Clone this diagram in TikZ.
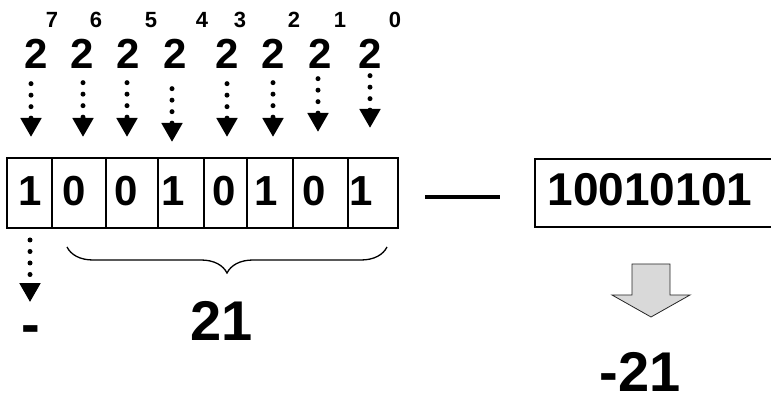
\documentclass[tikz,border=0pt]{standalone}
\usepackage{fontspec}
\setmainfont{Liberation Sans}
\usetikzlibrary{arrows.meta,decorations.pathreplacing,calc}

\begin{document}
\begin{tikzpicture}[x=1pt,y=-1pt,
  every node/.style={inner sep=0pt, outer sep=0pt},
  cellbox/.style={draw, line width=1.3pt, minimum height=70pt},
  bitdigit/.style={font=\fontsize{42}{42}\selectfont\bfseries},
  basetwo/.style={font=\fontsize{42}{42}\selectfont\bfseries},
  expo/.style={font=\fontsize{22}{22}\selectfont\bfseries},
  bignum/.style={font=\fontsize{56}{56}\selectfont\bfseries},
  dotarrow/.style={line width=5pt, line cap=round, dash pattern=on 0pt off 11.5pt,
    -{Triangle[width=20pt,length=19pt]}},
  blockarrow/.style={draw=black!85, line width=0.8pt, fill=black!15}
]
\useasboundingbox (0,0) rectangle (771,403);

% powers of two above the register
\foreach \n/\x/\ex in {7/36/52, 6/82/96, 5/128/151, 4/175/202,
                       3/227/240, 2/273/294, 1/320/340, 0/370/395} {
  \node[basetwo] (p\n) at (\x,54) {2};
  \node[expo] (e\n) at (\ex,20) {\n};
}

% the eight register cells
\foreach \n/\x/\w in {7/29.5/45, 6/79/54, 5/132/52, 4/181/46,
                      3/225.5/43, 2/270/46, 1/320.5/55, 0/373/50} {
  \node[cellbox, minimum width=\w pt] (c\n) at (\x,193) {};
}

% stored bits
\foreach \n/\x/\b in {7/30/1, 6/74/0, 5/126/0, 4/173/1,
                      3/224/0, 2/266.5/1, 1/314/0, 0/361.5/1} {
  \node[bitdigit] (d\n) at (\x,191) {\b};
}

% dotted arrows from each weight down to its cell
\foreach \n/\dx/\s/\t in {7/-5/83/137, 6/1/82/137, 5/-1/82/137, 4/-3/88/142,
                          3/0/83/137, 2/0/82/137, 1/-2/78/132, 0/0/75/128} {
  \draw[dotarrow] ($(p\n.south)+(\dx,\s-68)$) -- ($(p\n.south |- c\n.north)+(\dx,\t-158)$);
}

% sign bit
\node[bignum, anchor=base] (minus) at (30.5,344) {-};
\draw[dotarrow, shorten >=24pt] ($(c7.south)+(0.5,12)$) -- ($(c7.south |- minus.north)+(0.5,0)$);

% magnitude bits
\draw[decorate, decoration={brace, mirror, amplitude=26pt}, line width=1.3pt]
  (67,247) -- (387,247);
\node[bignum] (mag) at (222,321) {21};

% equivalence dash
\coordinate (dashL) at (425,197);
\coordinate (dashR) at (500,197);
\draw[line width=4pt] (dashL) -- (dashR);

% packed binary word
\draw[line width=1.3pt] (780,159) -- (535,159) -- (535,227) -- (780,227);
\node[font=\fontsize{46}{46}\selectfont\bfseries] (bin) at (650,190) {10010101};

% conversion arrow and result
\draw[blockarrow] (632,264) -- (670,264) -- (670,295) -- (690,295) -- (651,317)
  -- (612,295) -- (632,295) -- cycle;
\node[bignum] (res) at (640,372) {-21};
\end{tikzpicture}
\end{document}
